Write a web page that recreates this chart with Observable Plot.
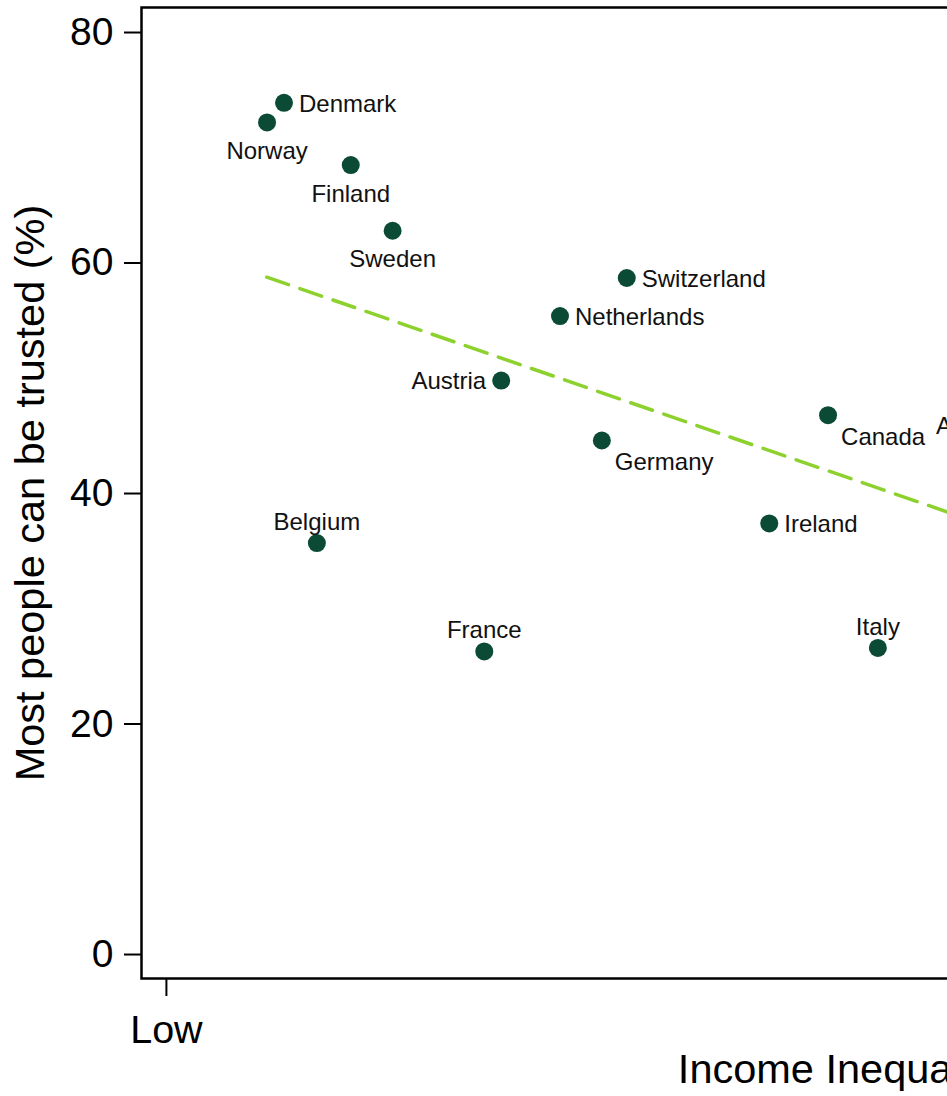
<!DOCTYPE html>
<html>
<head>
<meta charset="utf-8">
<script src="https://cdn.jsdelivr.net/npm/d3@7"></script>
<script src="https://cdn.jsdelivr.net/npm/@observablehq/plot@0.6"></script>
<style>
  html, body { margin: 0; padding: 0; background: #fff; overflow: hidden; }
  #wrap { width: 947px; height: 1096px; overflow: hidden; }
  #wrap svg { max-width: none !important; width: 1570px !important; height: 1096px !important; }
</style>
</head>
<body>
<div id="wrap"></div>
<script>
// ---- data ----
const countries  = ["Norway","Denmark","Finland","Sweden","Belgium","France","Austria","Netherlands","Switzerland","Germany","Ireland","Canada","Italy","Australia"];
const inequality = [10.1, 11.8, 18.5, 22.7, 15.1, 31.9, 33.6, 39.5, 46.2, 43.7, 60.5, 66.4, 71.4, 88.1];
const trust      = [72.2, 73.9, 68.5, 62.8, 35.7, 26.3, 49.8, 55.4, 58.7, 44.6, 37.4, 46.8, 26.6, 45.9];

const trendX = [10.07, 128];
const trendY = [58.77, 23.6];

const yTicks = [0, 20, 40, 60, 80];
const xTickValues = [0, 135.3];
const xTickLabels = ["Low", "High"];
const xTitle = "Income Inequality";
const yTitle = "Most people can be trusted (%)";

// ---- presentation ----
const placement = {
  Norway: "below", Denmark: "right", Finland: "below", Sweden: "below",
  Belgium: "above", France: "above", Austria: "left", Netherlands: "right",
  Switzerland: "right", Germany: "belowRight", Ireland: "right",
  Canada: "belowRight", Italy: "above", Australia: "left"
};
const offsets = {
  right:      {textAnchor: "start",  dx: 15,  dy: 1},
  left:       {textAnchor: "end",    dx: -15, dy: 1},
  below:      {textAnchor: "middle", dx: 0,   dy: 29},
  above:      {textAnchor: "middle", dx: 0,   dy: -21},
  belowRight: {textAnchor: "start",  dx: 13,  dy: 22}
};

const data = countries.map((c, i) => ({country: c, x: inequality[i], y: trust[i], pos: placement[c]}));
const trend = trendX.map((x, i) => ({x, y: trendY[i]}));

const labelMarks = Object.entries(offsets).map(([pos, o]) =>
  Plot.text(data.filter(d => d.pos === pos), {
    x: "x", y: "y", text: "country",
    textAnchor: o.textAnchor, dx: o.dx, dy: o.dy,
    fontSize: 24, fill: "#111"
  })
);

const chart = Plot.plot({
  width: 1570,
  height: 1096,
  marginLeft: 141,
  marginRight: 31,
  marginTop: 7,
  marginBottom: 118,
  style: {fontFamily: "'Liberation Sans', Arial, sans-serif", background: "#fff", color: "#000"},
  x: {domain: [-2.5, 137.8]},
  y: {domain: [-2.08, 82.17]},
  marks: [
    Plot.axisY({
      ticks: yTicks, tickSize: 17, tickPadding: 11, fontSize: 39, strokeWidth: 2, label: null
    }),
    Plot.axisY({
      ticks: [], tickSize: 0, fontSize: 41.5,
      label: yTitle, labelAnchor: "center", labelArrow: "none", labelOffset: 127
    }),
    Plot.axisX({
      ticks: xTickValues, tickFormat: d => xTickLabels[xTickValues.indexOf(d)],
      tickSize: 18, tickPadding: 18, fontSize: 39.5, strokeWidth: 2, label: null
    }),
    Plot.axisX({
      ticks: [], tickSize: 0, fontSize: 41.5,
      label: xTitle, labelAnchor: "center", labelArrow: "none", labelOffset: 104
    }),
    Plot.line(trend, {x: "x", y: "y", stroke: "#8dd12f", strokeWidth: 3.5, strokeDasharray: "23,12"}),
    Plot.dot(data, {x: "x", y: "y", r: 9, fill: "#0b4a35", stroke: "none"}),
    ...labelMarks,
    Plot.frame({stroke: "#000", strokeWidth: 2.5})
  ]
});
chart.style.maxWidth = "none";
document.getElementById("wrap").appendChild(chart);
</script>
</body>
</html>
